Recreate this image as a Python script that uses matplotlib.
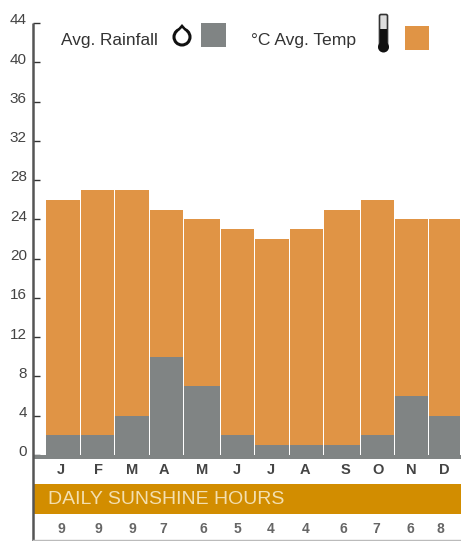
import matplotlib
matplotlib.use('Agg')
import matplotlib.pyplot as plt
from matplotlib.patches import Rectangle, Circle, FancyBboxPatch, Polygon
from matplotlib.transforms import ScaledTranslation

plt.rcParams['font.family'] = ['Liberation Sans', 'DejaVu Sans']

months = ['J', 'F', 'M', 'A', 'M', 'J', 'J', 'A', 'S', 'O', 'N', 'D']
temp = [26, 27, 27, 25, 24, 23, 22, 23, 25, 26, 24, 24]
rain = [2, 2, 4, 10, 7, 2, 1, 1, 1, 2, 6, 4]
sunshine = ['9', '9', '9', '7', '6', '5', '4', '4', '6', '7', '6', '8']
yticks = list(range(0, 45, 4))

# bars are not evenly spaced in the original, edges read off the picture
edges = [46, 80.5, 114.5, 149.5, 183.5, 220.5, 254.5, 289.5, 323.5, 361, 395, 429, 461]
label_x = [61, 98, 132, 164, 202, 237, 271, 305, 345, 378, 411, 444]
sun_x = [61, 98, 132, 163, 203, 237, 271, 306, 343, 376, 410, 440]

GREY = '#808484'
ORANGE = '#E09445'
BAND = '#D28D00'
W, H = 461, 541

fig = plt.figure(figsize=(W / 100, H / 100), dpi=100)

ax = fig.add_axes([33 / W, (H - 455) / H, (W - 33) / W, (455 - 23) / H])
ax.set_xlim(33, W)
ax.set_ylim(0, 44)
lefts = edges[:-1]
widths = [b - a - 1 for a, b in zip(edges[:-1], edges[1:])]
ax.bar(lefts, temp, width=widths, align='edge', color=ORANGE, linewidth=0)
ax.bar(lefts, rain, width=widths, align='edge', color=GREY, linewidth=0)
for s in ['top', 'right', 'bottom', 'left']:
    ax.spines[s].set_visible(False)
ax.set_xticks([])
ax.set_yticks(yticks)
ax.tick_params(axis='y', direction='in', length=5, width=1, color='#333333',
               labelsize=11, labelcolor='#444444', pad=4.5)
# labels sit a little above their ticks
for lab in ax.get_yticklabels():
    lab.set_transform(lab.get_transform() + ScaledTranslation(0, 3 / 72, fig.dpi_scale_trans))
ax.patch.set_alpha(0)

# everything outside the plot area, in pixel coordinates
ov = fig.add_axes([0, 0, 1, 1], zorder=3)
ov.set_xlim(0, W)
ov.set_ylim(H, 0)
ov.axis('off')
ov.patch.set_alpha(0)

ov.add_patch(Rectangle((34, 455), W - 34, 4, color=GREY, lw=0))
ov.plot([33, 33], [23, 541], color='#555555', lw=1.8, solid_capstyle='butt')
ov.plot([33, W], [539.5, 539.5], color='#BBBBBB', lw=1)
ov.add_patch(Rectangle((34, 484), W - 34, 30, color=BAND, lw=0))
ov.text(48, 500, 'DAILY SUNSHINE HOURS', color='#F3DFB0', fontsize=14,
        ha='left', va='center')

for x, m in zip(label_x, months):
    ov.text(x, 470, m, fontsize=10.5, fontweight='bold', color='#444444',
            ha='center', va='center')
for x, s in zip(sun_x, sunshine):
    ov.text(x, 529, s, fontsize=10, fontweight='bold', color='#666666',
            ha='center', va='center')

# legend
ov.text(61, 41, 'Avg. Rainfall', fontsize=12.4, color='#333333', ha='left', va='center')
ov.add_patch(Rectangle((201, 23), 25, 24, color=GREY, lw=0))
ov.text(251, 40, '°C Avg. Temp', fontsize=12.6, color='#333333', ha='left', va='center')
ov.add_patch(Rectangle((405, 26), 24, 24, color=ORANGE, lw=0))

# rain drop
ov.add_patch(Polygon([[175, 32], [189, 32], [182, 24]], closed=True, fc='#111111', lw=0))
ov.add_patch(Circle((182, 37), 8, fc='white', ec='#111111', lw=2.2))
ov.add_patch(Polygon([[178, 32], [186, 32], [182, 28]], closed=True, fc='white', lw=0))

# thermometer
ov.add_patch(FancyBboxPatch((381, 16), 5, 32, boxstyle='round,pad=1.5', fc='#DDDDDD', ec='#333333', lw=1.2))
ov.add_patch(Rectangle((380, 29), 7, 20, color='#111111', lw=0))
ov.add_patch(Circle((383.5, 47), 5.5, color='#111111', lw=0))

fig.savefig('out.png', dpi=100)
